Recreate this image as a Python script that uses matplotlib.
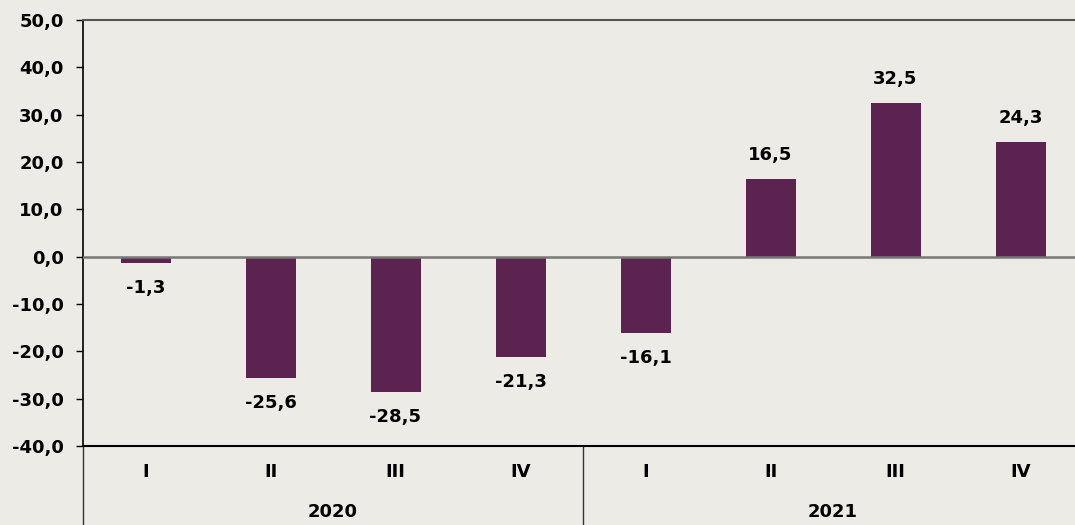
import matplotlib.pyplot as plt
import matplotlib.ticker as mticker

quarters = ['I', 'II', 'III', 'IV', 'I', 'II', 'III', 'IV']
years = ['2020', '2021']
values = [-1.3, -25.6, -28.5, -21.3, -16.1, 16.5, 32.5, 24.3]

bg = '#edebe6'
bar_color = '#5c2350'

plt.rcParams['font.family'] = 'DejaVu Sans'
plt.rcParams['font.weight'] = 'bold'

fig = plt.figure(figsize=(10.75, 5.25), dpi=100, facecolor=bg)
ax = fig.add_axes([83 / 1075, 79 / 525, 1000 / 1075, 426 / 525])
ax.set_facecolor(bg)

x = list(range(len(values)))
ax.bar(x, values, width=0.4, color=bar_color, zorder=3)

for xi, v in zip(x, values):
    txt = f'{v:.1f}'.replace('.', ',')
    off = 17 if v > 0 else -18
    ax.annotate(txt, (xi, v), xytext=(0, off), textcoords='offset points',
                ha='center', va='center', fontsize=13, fontweight='bold')

ax.set_xlim(-0.5, len(values) - 0.5)
ax.set_ylim(-40, 50)
ax.yaxis.set_major_locator(mticker.MultipleLocator(10))
ax.yaxis.set_major_formatter(mticker.FuncFormatter(lambda v, p: f'{v:.1f}'.replace('.', ',')))
ax.tick_params(axis='y', length=5, width=1, labelsize=13, pad=9, color='black')
ax.set_xticks([])

ax.axhline(0, color='#777777', lw=1.8, zorder=4)

ax.spines['right'].set_visible(False)
ax.spines['top'].set_color('#555555')
ax.spines['top'].set_linewidth(1.5)
ax.spines['left'].set_linewidth(1.2)
ax.spines['bottom'].set_linewidth(1.5)

trans = ax.get_xaxis_transform()
for xi, q in zip(x, quarters):
    ax.text(xi, -0.061, q, transform=trans, ha='center', va='center',
            fontsize=13, fontweight='bold')
n = len(quarters) // len(years)
for i, y in enumerate(years):
    ax.text(i * n + (n - 1) / 2, -0.155, y, transform=trans, ha='center',
            va='center', fontsize=13, fontweight='bold')
for i in range(len(years)):
    ax.plot([i * n - 0.5, i * n - 0.5], [0, -0.19], transform=trans,
            color='#333333', lw=1, clip_on=False)

fig.savefig('out.png', dpi=100, facecolor=bg)
